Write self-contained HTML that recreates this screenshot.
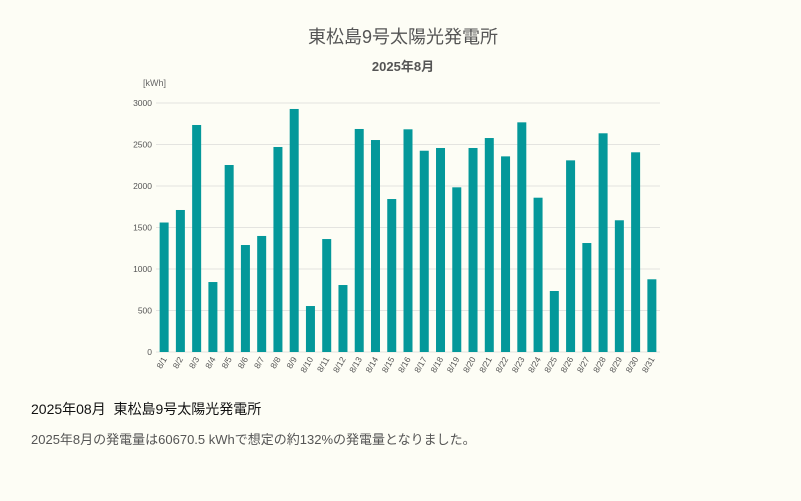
<!DOCTYPE html>
<html><head><meta charset="utf-8"><style>
body{margin:0;background:#fdfdf5;width:801px;height:501px;overflow:hidden;font-family:"Liberation Sans","Noto Sans CJK JP",sans-serif;}
svg{position:absolute;left:0;top:0}
.h{position:absolute;left:31px;top:399px;font-size:14px;color:#111;white-space:nowrap}
.p{position:absolute;left:31px;top:429px;font-size:13px;color:#555;white-space:nowrap}
</style></head><body>
<svg width="801" height="390">
<text x="403" y="43" text-anchor="middle" font-size="18" fill="#555" font-family="Liberation Sans, Noto Sans CJK JP, sans-serif">東松島9号太陽光発電所</text>
<text x="403" y="71" text-anchor="middle" font-size="13" font-weight="bold" fill="#555" font-family="Liberation Sans, Noto Sans CJK JP, sans-serif">2025年8月</text>
<text x="143" y="86" font-size="9" fill="#666" font-family="Liberation Sans, sans-serif">[kWh]</text>
<g id="grid"></g><g id="bars"></g><g id="xl"></g>
</svg>
<div class="h">2025年08月&nbsp;&nbsp;東松島9号太陽光発電所</div>
<div class="p">2025年8月の発電量は60670.5 kWhで想定の約132%の発電量となりました。</div>
<script>
const categories=[];for(let i=1;i<=31;i++)categories.push('8/'+i);
const values=[1560,1711,2735,843,2253,1289,1398,2470,2928,554,1361,807,2687,2554,1843,2683,2425,2458,1984,2458,2578,2357,2767,1859,735,2309,1313,2635,1587,2406,876];
const yTicks=[0,500,1000,1500,2000,2500,3000];
const NS='http://www.w3.org/2000/svg';
const x0=156,x1=660,yB=352,yT=103,yMax=3000;
const band=(x1-x0)/categories.length;
const y=v=>yB-(v/yMax)*(yB-yT);
const g=document.getElementById('grid'),b=document.getElementById('bars'),xl=document.getElementById('xl');
yTicks.forEach(t=>{
 const l=document.createElementNS(NS,'line');
 
 
 l.setAttribute('x1',x0);l.setAttribute('x2',x1);l.setAttribute('y1',y(t));l.setAttribute('y2',y(t));
 l.setAttribute('stroke','#e4e4e0');l.setAttribute('stroke-width','1');g.appendChild(l);
 const tx=document.createElementNS(NS,'text');
 
 
 tx.setAttribute('x',152);tx.setAttribute('y',y(t)+3);tx.setAttribute('text-anchor','end');
 tx.setAttribute('font-size','8.5');tx.setAttribute('fill','#555');tx.textContent=t;g.appendChild(tx);
});
values.forEach((v,i)=>{
 const cx=x0+band*(i+0.5);
 const r=document.createElementNS(NS,'rect');
 
 
 r.setAttribute('x',cx-4.5);r.setAttribute('width',9);r.setAttribute('y',y(v));r.setAttribute('height',yB-y(v));
 r.setAttribute('fill','#04989a');b.appendChild(r);
 const t=document.createElementNS(NS,'text');
 
 
 t.setAttribute('transform','translate('+(cx+3)+','+(yB+7)+') rotate(-60)');
 t.setAttribute('text-anchor','end');t.setAttribute('font-size','8.5');t.setAttribute('fill','#555');
 t.textContent=categories[i];xl.appendChild(t);
});
</script>
</body></html>
